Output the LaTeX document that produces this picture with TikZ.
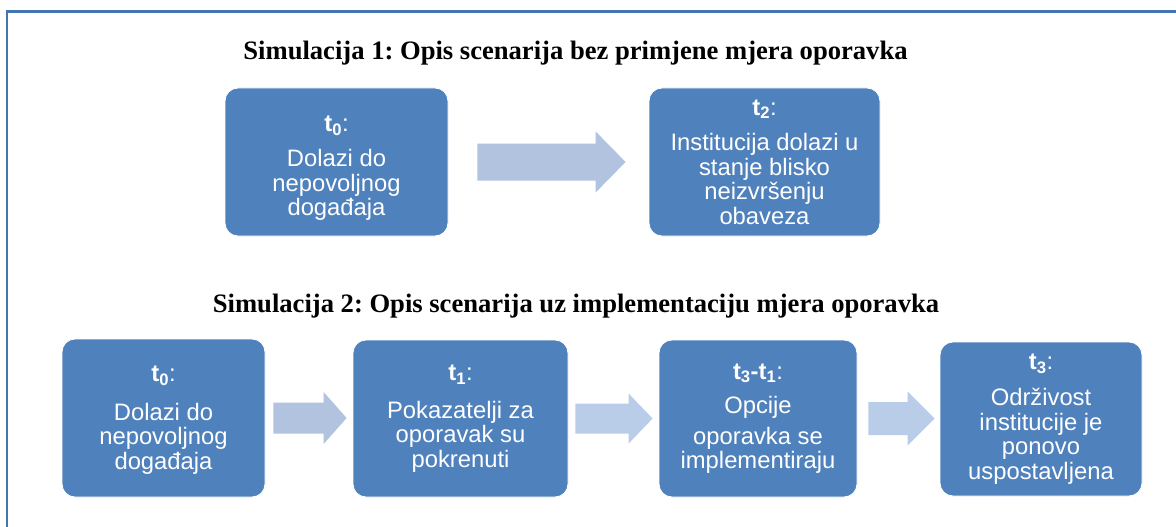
\documentclass[tikz,border=0pt]{standalone}
\usepackage{fontspec}
\setmainfont{Liberation Serif}
\newfontfamily\arialf{Liberation Sans}
\usetikzlibrary{calc}
\frenchspacing
\definecolor{boxblue}{HTML}{4F81BD}
\definecolor{framecol}{HTML}{4376B0}
\definecolor{arrowA}{HTML}{B1C3DF}
\definecolor{arrowB}{HTML}{B9CDE8}
% arrow from node #1 to node #2: gaps #3 #4, shaft half #5, head half #6, head length #7, colour #8
\newcommand{\blockarr}[8]{%
  \fill[#8] let \p1=($(#1.east)+(#3pt,0)$), \p2=($(#2.west)-(#4pt,0)$) in
    (\x1,\y1+#5pt) -- (\x2-#7pt,\y1+#5pt) -- (\x2-#7pt,\y1+#6pt) -- (\x2,\y1)
    -- (\x2-#7pt,\y1-#6pt) -- (\x2-#7pt,\y1-#5pt) -- (\x1,\y1-#5pt) -- cycle;}
\tikzset{
  stepbox/.style={fill=boxblue, draw=white, line width=0.8pt, rounded corners=13pt,
    inner sep=0pt, align=center, text=white,
    font=\arialf\fontsize{23.8}{24.5}\selectfont},
  titletext/.style={font=\fontsize{26.6}{30}\selectfont\bfseries, anchor=base, inner sep=0pt},
}
% #1: height of an invisible strut on the first line, #2: subscript, #3: space after
\newcommand{\tlab}[3][0]{\rule{0pt}{#1pt}\textbf{t\textsubscript{#2}}:\\[#3pt]}
\begin{document}
\begin{tikzpicture}[x=1pt,y=-1pt]
\useasboundingbox (0,0) rectangle (1176,527);
\fill[white] (0,0) rectangle (1176,527);
\draw[framecol, line width=2.6pt] (7,600) -- (7,11.5) -- (1250,11.5);

\node[titletext] (title1) at (575.5,60) {Simulacija 1: Opis scenarija bez primjene mjera oporavka};
\node[titletext] (title2) at (576,312) {Simulacija 2: Opis scenarija uz implementaciju mjera oporavka};

\node[stepbox, minimum width=223pt, minimum height=148pt] (a1) at (336.5,162)
  {\tlab[28]{0}{11}Dolazi do\\nepovoljnog\\događaja};
\node[stepbox, minimum width=231pt, minimum height=148pt] (a2) at (764.5,162)
  {\tlab{2}{11}Institucija dolazi u\\stanje blisko\\neizvršenju\\obaveza};
\blockarr{a1}{a2}{29}{23}{18.5}{30.5}{30}{arrowA}

\node[stepbox, minimum width=203pt, minimum height=158pt] (b1) at (163.5,418)
  {\tlab[20]{0}{14}Dolazi do\\nepovoljnog\\događaja};
\node[stepbox, minimum width=215pt, minimum height=157pt] (b2) at (460.5,418.5)
  {\tlab{1}{13}Pokazatelji za\\oporavak su\\pokrenuti};
\node[stepbox, minimum width=198pt, minimum height=157pt] (b3) at (758,418.5)
  {\textbf{t\textsubscript{3}-t\textsubscript{1}}:\\[10pt]Opcije\\[6pt]oporavka se\\implementiraju};
\node[stepbox, minimum width=202pt, minimum height=154pt] (b4) at (1041,419)
  {\tlab{3}{12}Održivost\\institucije je\\ponovo\\uspostavljena};
\blockarr{b1}{b2}{8}{6}{15.5}{26}{23}{arrowA}
\blockarr{b2}{b3}{7}{6}{15}{25}{24}{arrowB}
\blockarr{b3}{b4}{11}{5}{16.5}{27}{27}{arrowB}
\end{tikzpicture}
\end{document}
